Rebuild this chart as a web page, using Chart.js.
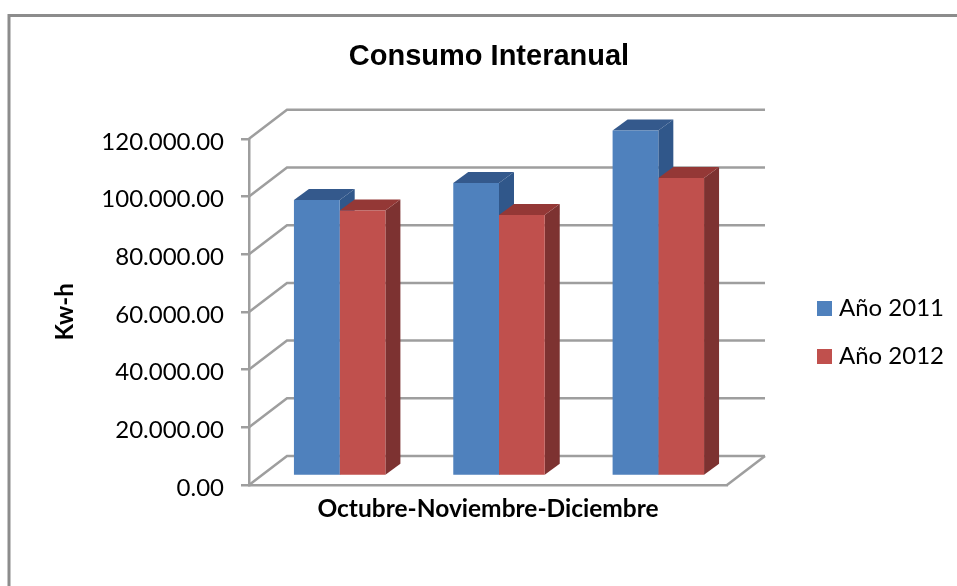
<!DOCTYPE html>
<html><head><meta charset="utf-8">
<style>html,body{margin:0;padding:0;background:#fff}canvas{display:block}</style>
<script src="https://cdn.jsdelivr.net/npm/chart.js@4/dist/chart.umd.min.js"></script>
</head><body><canvas id="c" width="957" height="586"></canvas>
<script>
const categories = ['Octubre','Noviembre','Diciembre'];
const yTickValues = [0,20000,40000,60000,80000,100000,120000];
const yTickLabels = ['0.00','20.000.00','40.000.00','60.000.00','80.000.00','100.000.00','120.000.00'];
const seriesNames = ['Año 2011','Año 2012'];
const values2011 = [95700,101600,119800];
const values2012 = [92000,90500,103300];
const frontColors = ['#4F81BD','#C0504D'];
const topColors = ['#34598C','#943836'];
const sideColors = ['#30578A','#7D3231'];

const GRID='#9E9E9E';
const WALL={dx:38,dy:-29}, BAR={dx:11,dy:-9}, DEPTH={dx:15,dy:-11};
const area={left:249,right:727,top:139,bottom:485};
const padLeft=51;

const poly=(ctx,pts,fill)=>{ctx.beginPath();pts.forEach((p,i)=>i?ctx.lineTo(p[0],p[1]):ctx.moveTo(p[0],p[1]));ctx.closePath();ctx.fillStyle=fill;ctx.fill();};

const scene={
 id:'scene',
 afterLayout(chart){
  const lg=chart.legend, t=chart.titleBlock;
  lg.left=822-24; lg.right=957; lg.top=272.5; lg.bottom=400;
  t.left=489-250; t.right=489+250;
 },
 beforeDraw(chart){
  const c=chart.ctx;
  c.save();c.fillStyle='#fff';c.fillRect(0,0,957,586);
  c.strokeStyle='#8C8C8C';c.lineWidth=3;
  c.beginPath();c.moveTo(9,586);c.lineTo(9,15.5);c.lineTo(957,15.5);c.stroke();
  c.restore();
 },
 beforeDatasetsDraw(chart){
  const c=chart.ctx,{left,right,bottom}=chart.chartArea,y=chart.scales.y;
  c.save();c.strokeStyle=GRID;c.lineWidth=2.5;c.lineJoin='miter';
  yTickValues.forEach(v=>{
   const p=y.getPixelForValue(v);
   c.beginPath();c.moveTo(left,p);c.lineTo(left+WALL.dx,p+WALL.dy);c.lineTo(right+WALL.dx,p+WALL.dy);c.stroke();
  });
  c.beginPath();c.moveTo(right,bottom);c.lineTo(right+WALL.dx,bottom+WALL.dy);c.stroke();
  c.restore();
  c.save();c.translate(BAR.dx,BAR.dy);
  [0,1].forEach(i=>{
   chart.getDatasetMeta(i).data.forEach(b=>{
    const L=b.x-b.width/2,R=b.x+b.width/2,T=b.y,B=b.base,d=DEPTH;
    poly(c,[[R,T],[R+d.dx,T+d.dy],[R+d.dx,B+d.dy],[R,B]],sideColors[i]);
    poly(c,[[L,T],[L+d.dx,T+d.dy],[R+d.dx,T+d.dy],[R,T]],topColors[i]);
   });
  });
  // the translation stays on for the native bars; restored in afterDatasetsDraw
 },
 afterDatasetsDraw(chart){chart.ctx.restore();}
};

new Chart(document.getElementById('c'),{
 type:'bar',
 data:{labels:categories,datasets:[
  {label:seriesNames[0],data:values2011,backgroundColor:frontColors[0],clip:false,categoryPercentage:0.574,barPercentage:1},
  {label:seriesNames[1],data:values2012,backgroundColor:frontColors[1],clip:false,categoryPercentage:0.574,barPercentage:1}
 ]},
 plugins:[scene],
 options:{
  responsive:false,animation:false,
  layout:{padding:{left:padLeft,right:957-area.right,top:0,bottom:0}},
  scales:{
   x:{
    ticks:{display:false},
    grid:{display:true,drawOnChartArea:false,drawTicks:false,color:GRID},
    border:{display:true,color:GRID,width:2.5},
    title:{display:true,text:'Octubre-Noviembre-Diciembre',color:'#000',font:{family:'Lato',size:24.5,weight:'bold'},padding:{top:4,bottom:62}},
    afterFit(s){s.height=586-area.bottom;}
   },
   y:{
    min:0,max:120000,
    afterBuildTicks(s){s.ticks=yTickValues.map(v=>({value:v}));},
    ticks:{color:'#000',font:{family:'Lato',size:24},padding:17,labelOffset:3,callback:v=>yTickLabels[yTickValues.indexOf(v)]},
    grid:{drawOnChartArea:false,drawTicks:true,tickLength:8,color:GRID,lineWidth:2.5},
    border:{display:true,color:GRID,width:2.5},
    title:{display:true,text:'Kw-h',color:'#000',font:{family:'Lato',size:24,weight:'bold'},padding:{top:0,bottom:0}},
    afterFit(s){s.width=area.left-padLeft;}
   }
  },
  plugins:{
   title:{display:true,text:'Consumo Interanual',color:'#000',font:{family:'Liberation Sans',size:29,weight:'bold'},padding:{top:40,bottom:64}},
   legend:{position:'chartArea',align:'start',labels:{
     color:'#000',font:{family:'Lato',size:24},boxWidth:5,boxHeight:5,padding:24,
     generateLabels(chart){return seriesNames.map((n,i)=>({text:n,fillStyle:frontColors[i],strokeStyle:frontColors[i],lineWidth:10,datasetIndex:i,hidden:false,fontColor:'#000'}));}
   }},
   tooltip:{enabled:false}
  }
 }
});
</script>
</body></html>
